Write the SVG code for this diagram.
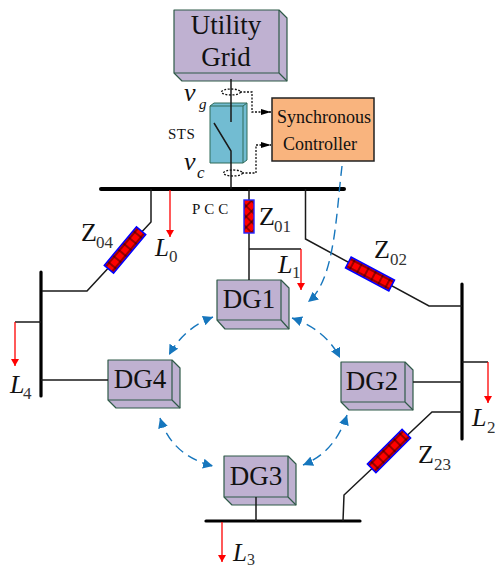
<svg xmlns="http://www.w3.org/2000/svg" width="495" height="569" viewBox="0 0 495 569">
<style>
text{font-family:"Liberation Serif","Times New Roman",serif;fill:#111}
.box path,.box rect{fill:#bfb1d1;stroke:#2f5a48;stroke-width:1.2;stroke-linejoin:round}
.lbl{font-size:27px;text-anchor:middle}
.w{fill:none;stroke:#1a1a1a;stroke-width:1.5}
.bus{fill:none;stroke:#000;stroke-width:4;stroke-linecap:round}
.load{fill:none;stroke:#f00;stroke-width:1.3;marker-end:url(#ra)}
.ctl{fill:none;stroke:#111;stroke-width:1.3;stroke-dasharray:2 1.5}
.link{fill:none;stroke:#1676bd;stroke-width:1.4;stroke-dasharray:10 6}
.both{marker-start:url(#ba);marker-end:url(#ba)}
.z{fill:url(#hatch);stroke:#00f;stroke-width:1.6}
.m{font-size:26px}.s{font-size:17px;fill:#333}
.i{font-style:italic}
</style>
<defs>
<marker id="ra" markerUnits="userSpaceOnUse" markerWidth="8" markerHeight="12" refX="7" refY="4" orient="auto"><path d="M0,0L7,4L0,8Z" fill="#f00"/></marker>
<marker id="ba" markerUnits="userSpaceOnUse" markerWidth="12" markerHeight="10" refX="10" refY="5" orient="auto-start-reverse"><path d="M0,0L10,5L0,10Z" fill="#1676bd"/></marker>
<marker id="ka" markerUnits="userSpaceOnUse" markerWidth="12" markerHeight="8" refX="10" refY="3" orient="auto"><path d="M0,0L10,3L0,6Z" fill="#000"/></marker>
<pattern id="hatch" width="8" height="8" patternUnits="userSpaceOnUse"><rect width="8" height="8" fill="#f00"/><path d="M4,0V8M0,4H8" stroke="#300" stroke-width="1"/></pattern>
<pattern id="hatch2" width="7.500" height="7.500" patternUnits="userSpaceOnUse" patternTransform="rotate(45 249 200)"><rect width="7.500" height="7.500" fill="#f00"/><path d="M3.750,0V7.500M0,3.750H7.500" stroke="#300" stroke-width="1"/></pattern>
</defs>

<g id="utility-grid" class="box">
<path d="M174,10L279,10L287,18L287,81L182,81L174,73Z"/>
<path d="M279,10V73H174M279,73L287,81" style="fill:none"/>
<text class="lbl" x="226" y="34">Utility</text>
<text class="lbl" x="226" y="66">Grid</text>
</g>

<g id="sts">
<path d="M210,106L214,103H247V160L243,163H210Z" fill="#72bcd2" stroke="#2f6a58" stroke-width="1"/>
<path d="M210,106H243V163M243,106L247,103" fill="none" stroke="#2f6a58" stroke-width="1"/>
<text x="168" y="139" style="font-size:15px;letter-spacing:.5px">STS</text>
</g>

<g id="synchronous-controller">
<rect x="272" y="98" width="102" height="63" fill="#f9b47e" stroke="#222" stroke-width="1.5"/>
<text x="277" y="123" style="font-size:18px">Synchronous</text>
<text x="283" y="150" style="font-size:18px">Controller</text>
</g>

<g id="dg1" class="box">
<path d="M217,280H281L289,288V329H225L217,320Z"/>
<path d="M281,280V320H217M281,320L289,329" style="fill:none"/>
<text class="lbl" x="249" y="308">DG1</text>
</g>
<g id="dg4" class="box">
<path d="M108,360H172L180,368V408H116L108,400Z"/>
<path d="M172,360V400H108M172,400L180,408" style="fill:none"/>
<text class="lbl" x="140" y="388">DG4</text>
</g>
<g id="dg2" class="box">
<path d="M341,362H405L413,370V410H349L341,402Z"/>
<path d="M405,362V402H341M405,402L413,410" style="fill:none"/>
<text class="lbl" x="372" y="390">DG2</text>
</g>
<g id="dg3" class="box">
<path d="M224,456H288L296,464V505H232L224,497Z"/>
<path d="M288,456V497H224M288,497L296,505" style="fill:none"/>
<text class="lbl" x="256" y="485">DG3</text>
</g>

<g id="connectors">
<path class="bus" d="M101,189H344"/>
<path class="bus" d="M41,272V396" style="stroke-width:3.2"/>
<path class="bus" d="M462,284V439" style="stroke-width:3.2"/>
<path class="bus" d="M206,521H360" style="stroke-width:3.2"/>
<path class="w" d="M231,79V122M214,123L231,151V189"/>
<path class="w" d="M151,189V222L87,291H42"/>
<path class="w" d="M249,189V280M249,249H301"/>
<path class="w" d="M305.500,189V239L429,306H462"/>
<path class="w" d="M462,412H432L344,495L343,521"/>
<path class="w" d="M256,497V521M413,382H462M41,380H108M41,322H15M462,362H488"/>
<path class="load" d="M170,190V237"/>
<path class="load" d="M301,249V290"/>
<path class="load" d="M15,322V366"/>
<path class="load" d="M488,362V403"/>
<path class="load" d="M222,522V562"/>
<ellipse class="ctl" cx="231" cy="92" rx="9.500" ry="3"/>
<ellipse class="ctl" cx="233" cy="173" rx="9.500" ry="3"/>
<path class="ctl" d="M240,92H252V112H271" marker-end="url(#ka)"/>
<path class="ctl" d="M242,173H256V145H271" marker-end="url(#ka)"/>
<path class="link" d="M342,166C336,215 335,280 308,302" marker-end="url(#ba)"/>
<path class="link both" d="M213,317Q184,328 169,355"/>
<path class="link both" d="M292,318Q326,330 340,358"/>
<path class="link both" d="M347,415Q335,452 303,465"/>
<path class="link both" d="M160,418Q172,456 213,466"/>
</g>

<g id="z04"><rect class="z" x="-25" y="-6" width="50" height="12" transform="translate(125,250) rotate(-50)"/>
<text class="m" x="81" y="241">Z</text><text class="s" x="96" y="248">04</text></g>
<g id="z01"><rect x="244" y="200" width="10" height="33" fill="url(#hatch2)" stroke="#22f" stroke-width="1.4"/>
<text class="m" x="259" y="225">Z</text><text class="s" x="274" y="232">01</text></g>
<g id="z02"><rect class="z" x="-24.500" y="-6" width="49" height="12" transform="translate(370,274) rotate(28)"/>
<text class="m" x="374" y="258">Z</text><text class="s" x="390" y="265">02</text></g>
<g id="z23"><rect class="z" x="-24.500" y="-6" width="49" height="12" transform="translate(389,451) rotate(-45)"/>
<text class="m" x="418" y="463">Z</text><text class="s" x="434" y="470">23</text></g>

<g id="labels">
<text class="m i" x="184" y="101">v</text><text class="i" x="199" y="109" style="font-size:15px">g</text>
<text class="m i" x="184" y="170">v</text><text class="i" x="197" y="178" style="font-size:17px">c</text>
<text x="192" y="214" style="font-size:15px;letter-spacing:4px">PCC</text>
<text class="i" x="155" y="256" style="font-size:25px">L</text><text class="s" x="169" y="262">0</text>
<text class="m i" x="278" y="273">L</text><text class="s" x="292" y="278">1</text>
<text class="m i" x="472" y="426">L</text><text class="s" x="487" y="433">2</text>
<text class="i" x="233" y="561" style="font-size:25px">L</text><text class="s" x="247" y="565" style="font-size:16px">3</text>
<text class="m i" x="10" y="393">L</text><text class="s" x="23" y="399">4</text>
</g>
</svg>
